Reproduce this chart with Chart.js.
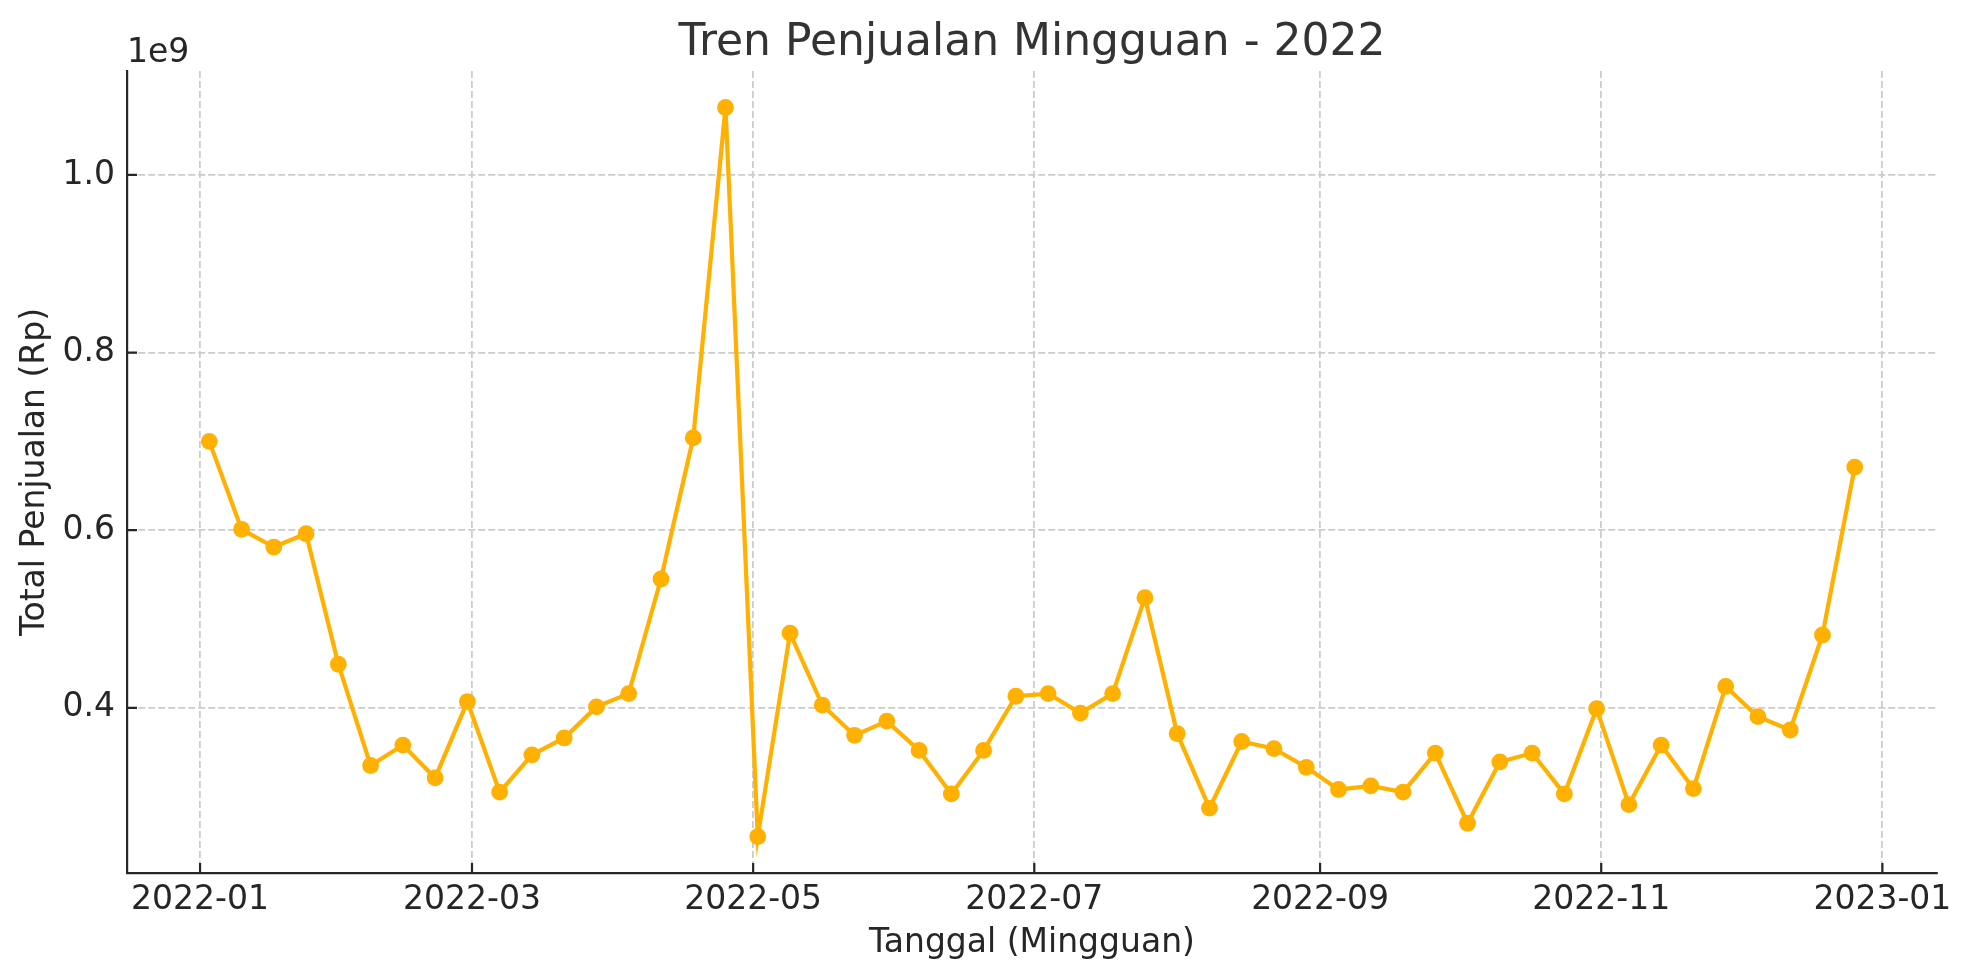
<!DOCTYPE html>
<html>
<head>
<meta charset="utf-8">
<script src="https://cdn.jsdelivr.net/npm/chart.js@4/dist/chart.umd.min.js"></script>
<style>
  html, body { margin: 0; padding: 0; background: #fff; }
  #wrap { width: 1972px; height: 980px; position: relative; }
</style>
</head>
<body>
<div id="wrap"><canvas id="salesChart"></canvas></div>
<script>
// weekly dates (Mondays) of 2022
const weeks = [
  '2022-01-03', '2022-01-10', '2022-01-17', '2022-01-24', '2022-01-31',
  '2022-02-07', '2022-02-14', '2022-02-21', '2022-02-28',
  '2022-03-07', '2022-03-14', '2022-03-21', '2022-03-28',
  '2022-04-04', '2022-04-11', '2022-04-18', '2022-04-25',
  '2022-05-02', '2022-05-09', '2022-05-16', '2022-05-23', '2022-05-30',
  '2022-06-06', '2022-06-13', '2022-06-20', '2022-06-27',
  '2022-07-04', '2022-07-11', '2022-07-18', '2022-07-25',
  '2022-08-01', '2022-08-08', '2022-08-15', '2022-08-22', '2022-08-29',
  '2022-09-05', '2022-09-12', '2022-09-19', '2022-09-26',
  '2022-10-03', '2022-10-10', '2022-10-17', '2022-10-24', '2022-10-31',
  '2022-11-07', '2022-11-14', '2022-11-21', '2022-11-28',
  '2022-12-05', '2022-12-12', '2022-12-19', '2022-12-26'
];

// total sales per week, Rp
const sales = [
  0.700e9, 0.601e9, 0.581e9, 0.596e9, 0.449e9,
  0.335e9, 0.358e9, 0.321e9, 0.407e9,
  0.305e9, 0.347e9, 0.366e9, 0.401e9,
  0.416e9, 0.545e9, 0.704e9, 1.076e9,
  0.255e9, 0.484e9, 0.403e9, 0.369e9, 0.385e9,
  0.352e9, 0.303e9, 0.352e9, 0.413e9,
  0.416e9, 0.394e9, 0.416e9, 0.524e9,
  0.371e9, 0.287e9, 0.362e9, 0.354e9, 0.333e9,
  0.308e9, 0.312e9, 0.305e9, 0.349e9,
  0.270e9, 0.339e9, 0.349e9, 0.303e9, 0.399e9,
  0.291e9, 0.358e9, 0.309e9, 0.424e9,
  0.390e9, 0.375e9, 0.482e9, 0.671e9
];

const xTickLabels = ['2022-01', '2022-03', '2022-05', '2022-07', '2022-09', '2022-11', '2023-01'];
const yTicks = [0.4e9, 0.6e9, 0.8e9, 1.0e9];
const yTickLabels = ['0.4', '0.6', '0.8', '1.0'];
const chartTitle = 'Tren Penjualan Mingguan - 2022';

const toTs = s => {
  const p = s.split('-').map(Number);
  return Date.UTC(p[0], p[1] - 1, p[2] || 1);
};

const points = weeks.map((d, i) => ({ x: toTs(d), y: sales[i] }));

// matplotlib-like 5% margins
const xs = points.map(p => p.x);
const xSpan = Math.max(...xs) - Math.min(...xs);
const ySpan = Math.max(...sales) - Math.min(...sales);

const FONT = "'DejaVu Sans', 'Noto Sans', sans-serif";
const INK = '#262626';

// inward ticks, "1e9" offset text and the title centred over the axes
const decorations = {
  id: 'decorations',
  afterDraw(chart) {
    const { ctx, chartArea, scales } = chart;
    ctx.save();
    ctx.strokeStyle = INK;
    ctx.lineWidth = 2.2;
    ctx.beginPath();
    scales.x.ticks.forEach(t => {
      const px = scales.x.getPixelForValue(t.value);
      ctx.moveTo(px, chartArea.bottom);
      ctx.lineTo(px, chartArea.bottom - 10);
    });
    scales.y.ticks.forEach(t => {
      const py = scales.y.getPixelForValue(t.value);
      ctx.moveTo(chartArea.left, py);
      ctx.lineTo(chartArea.left + 10, py);
    });
    ctx.stroke();

    ctx.fillStyle = INK;
    ctx.font = '33px ' + FONT;
    ctx.textAlign = 'left';
    ctx.textBaseline = 'alphabetic';
    ctx.fillText('1e9', chartArea.left, 62);

    ctx.fillStyle = '#333333';
    ctx.font = '44px ' + FONT;
    ctx.textAlign = 'center';
    ctx.fillText(chartTitle, (chartArea.left + chartArea.right) / 2, 55);
    ctx.restore();
  }
};

new Chart(document.getElementById('salesChart'), {
  type: 'line',
  data: {
    datasets: [{
      label: 'Total Penjualan',
      data: points,
      borderColor: '#FFB000',
      backgroundColor: '#FFB000',
      borderWidth: 4.2,
      pointRadius: 8.4,
      pointBorderWidth: 0,
      pointHoverRadius: 8.4,
      tension: 0
    }]
  },
  options: {
    responsive: true,
    maintainAspectRatio: false,
    animation: false,
    layout: { padding: { left: 0, right: 35, top: 71, bottom: 0 } },
    plugins: {
      legend: { display: false },
      tooltip: { enabled: false },
      title: { display: false }
    },
    scales: {
      x: {
        type: 'linear',
        min: Math.min(...xs) - xSpan * 0.05,
        max: Math.max(...xs) + xSpan * 0.05,
        afterBuildTicks: s => { s.ticks = xTickLabels.map(l => ({ value: toTs(l) })); },
        afterFit: s => { s.height = 107; },
        ticks: {
          callback: (v, i) => xTickLabels[i],
          color: INK,
          font: { family: FONT, size: 33 },
          padding: 8,
          maxRotation: 0,
          autoSkip: false
        },
        grid: { color: '#cccccc', lineWidth: 1.8, drawTicks: false },
        border: { display: true, color: INK, width: 2.2, dash: [7, 3] },
        title: {
          display: true,
          text: 'Tanggal (Mingguan)',
          color: INK,
          font: { family: FONT, size: 33 },
          padding: { top: 0, bottom: 17 }
        }
      },
      y: {
        min: Math.min(...sales) - ySpan * 0.05,
        max: Math.max(...sales) + ySpan * 0.05,
        afterBuildTicks: s => { s.ticks = yTicks.map(v => ({ value: v })); },
        afterFit: s => { s.width = 127; },
        ticks: {
          callback: (v, i) => yTickLabels[i],
          color: INK,
          font: { family: FONT, size: 33 },
          padding: 12
        },
        grid: { color: '#cccccc', lineWidth: 1.8, drawTicks: false },
        border: { display: true, color: INK, width: 2.2, dash: [7, 3] },
        title: {
          display: true,
          text: 'Total Penjualan (Rp)',
          color: INK,
          font: { family: FONT, size: 33 },
          padding: { top: 16, bottom: 0 }
        }
      }
    }
  },
  plugins: [decorations]
});
</script>
</body>
</html>
